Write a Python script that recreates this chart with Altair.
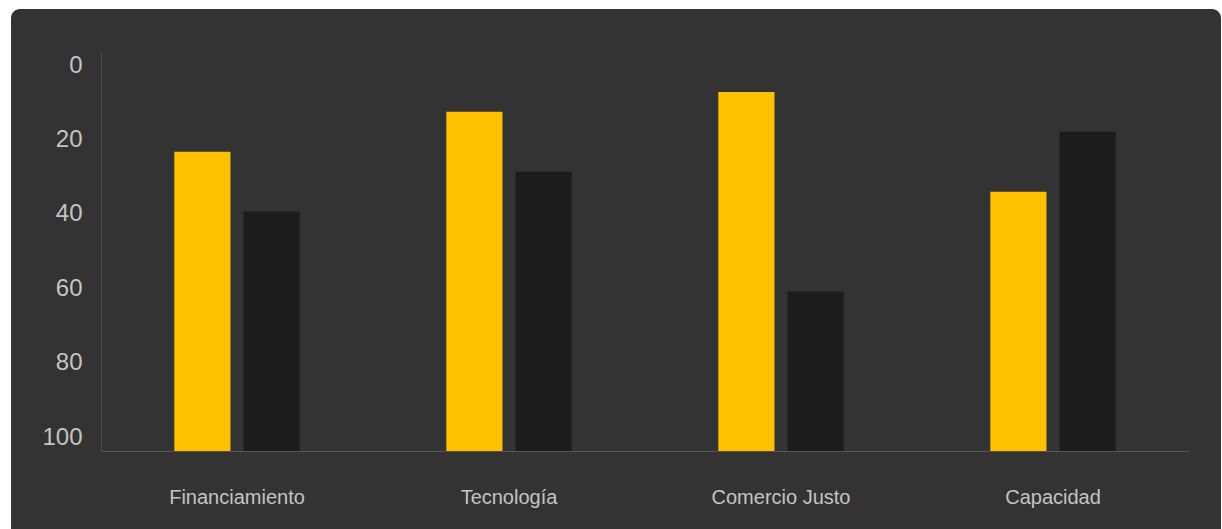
import altair as alt
import pandas as pd

categories = ["Financiamiento", "Tecnología", "Comercio  Justo", "Capacidad"]
series_names = ["Serie 1", "Serie 2"]
serie1 = [25, 15, 10, 35]
serie2 = [40, 30, 60, 20]
colors = ["#FFC000", "#1C1C1C"]
y_ticks = [0, 20, 40, 60, 80, 100]

rows = []
for c, a, b in zip(categories, serie1, serie2):
    rows.append({"cat": c, "serie": series_names[0], "value": a})
    rows.append({"cat": c, "serie": series_names[1], "value": b})
df = pd.DataFrame(rows)

panel = alt.Chart(pd.DataFrame({"p": [0]})).mark_rect(
    color="#333333", cornerRadius=9
).encode(
    x=alt.value(-90), x2=alt.value(1120), y=alt.value(-43), y2=alt.value(500)
)

bars = alt.Chart(df).mark_bar().encode(
    x=alt.X(
        "cat:N",
        sort=categories,
        title=None,
        scale=alt.Scale(paddingInner=0.539, paddingOuter=0.2695),
        axis=alt.Axis(
            labelAngle=0, ticks=False, labelPadding=36, labelFontSize=20,
            labelColor="#c4c4c4", labelFont="Liberation Sans",
            domainColor="#555555", grid=False, zindex=1,
        ),
    ),
    xOffset=alt.XOffset(
        "serie:N", sort=series_names,
        scale=alt.Scale(paddingInner=0.188, paddingOuter=0),
    ),
    y=alt.Y(
        "value:Q",
        scale=alt.Scale(domain=[0, 100], reverse=True, nice=False, zero=False),
        title=None,
        axis=alt.Axis(
            values=y_ticks, ticks=False, grid=False, labelPadding=19,
            labelFontSize=24, labelColor="#c4c4c4", labelFont="Liberation Sans",
            domainColor="#4a4a4a", zindex=1,
            labelOffset={"expr": "13 - 0.27*datum.value"},
        ),
    ),
    y2=alt.datum(100),
    color=alt.Color("serie:N", scale=alt.Scale(domain=series_names, range=colors), legend=None),
)

chart = alt.layer(panel, bars).properties(
    width=1088,
    height=399,
    autosize=alt.AutoSizeParams(type="none"),
    padding={"left": 101, "top": 52, "right": 33, "bottom": 78},
).configure(background="white").configure_view(stroke=None)

chart.save("out.html", embed_options={"renderer": "svg", "actions": False})
